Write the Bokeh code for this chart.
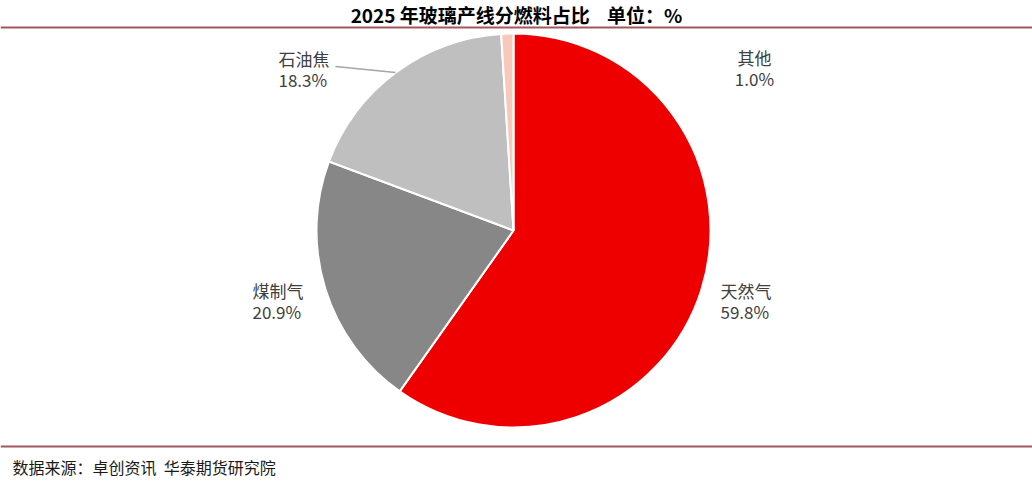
import math
from bokeh.plotting import figure
from bokeh.models import Range1d, ColumnDataSource
from bokeh.core.properties import value
from bokeh.embed import file_html
from bokeh.resources import INLINE

# ---- data ----
categories = ["天然气", "煤制气", "石油焦", "其他"]
shares = [59.8, 20.9, 18.3, 1.0]
colors = ["#EE0000", "#878787", "#BFBFBF", "#F7C9BB"]
title_text = "2025 年玻璃产线分燃料占比\u00a0\u00a0\u00a0\u00a0单位：%"
source_text = "数据来源：卓创资讯\u00a0\u00a0华泰期货研究院"

W, H = 1032, 504
FONT = "Noto Sans CJK SC"

p = figure(width=W, height=H, output_backend="svg", toolbar_location=None,
           x_range=Range1d(0, W), y_range=Range1d(0, H), min_border=0)
p.axis.visible = False
p.grid.visible = False
p.outline_line_color = None
p.background_fill_color = "white"
p.border_fill_color = "white"

def px(xp, yp):
    # picture pixel -> data coords
    return xp, H - yp

cx, cy = px(513, 230)
R = 197

total = sum(shares)
starts, ends = [], []
acc = 0.0
for s in shares:
    starts.append(math.pi / 2 - acc / total * 2 * math.pi)
    acc += s
    ends.append(math.pi / 2 - acc / total * 2 * math.pi)

src = ColumnDataSource(dict(start=starts, end=ends, color=colors))
p.wedge(x=cx, y=cy, radius=R, start_angle="start", end_angle="end",
        direction="clock", fill_color="color", line_color="white",
        line_width=2, source=src)

# separator lines
for yline in (27, 446):
    x0, y0 = px(0, yline)
    x1, _ = px(W, yline)
    p.segment(x0=[x0], y0=[y0], x1=[x1], y1=[y0], line_color="#A0585E", line_width=2)

# title
tx, ty = px(516, 14)
p.text(x=[tx], y=[ty], text=[title_text], text_font=value(FONT), text_font_style="bold",
       text_font_size="19px", text_align="center", text_baseline="middle", text_color="#000000")

# source
sx, sy = px(12, 466)
p.text(x=[sx], y=[sy], text=[source_text], text_font=value(FONT),
       text_font_size="16px", text_align="left", text_baseline="middle", text_color="#1a1a1a")

# labels (layout positions in picture px: x, y of first line, align)
label_pos = {
    "天然气": (720, 290, "left"),
    "煤制气": (252, 290, "left"),
    "石油焦": (278, 58, "left"),
    "其他": (754, 57, "center"),
}
for cat, sh in zip(categories, shares):
    lx, ly, al = label_pos[cat]
    x1_, y1_ = px(lx, ly)
    x2_, y2_ = px(lx, ly + 21)
    p.text(x=[x1_, x2_], y=[y1_, y2_], text=[cat, f"{sh:.1f}%"], text_font=value(FONT),
           text_font_size="17px", text_align=al, text_baseline="middle", text_color="#404040")

# leader line for 石油焦
lx0, ly0 = px(335, 66)
lx1, ly1 = px(395, 72)
p.segment(x0=[lx0], y0=[ly0], x1=[lx1], y1=[ly1], line_color="#A6A6A6", line_width=1.5)

open("out.html", "w").write(file_html(p, INLINE))
